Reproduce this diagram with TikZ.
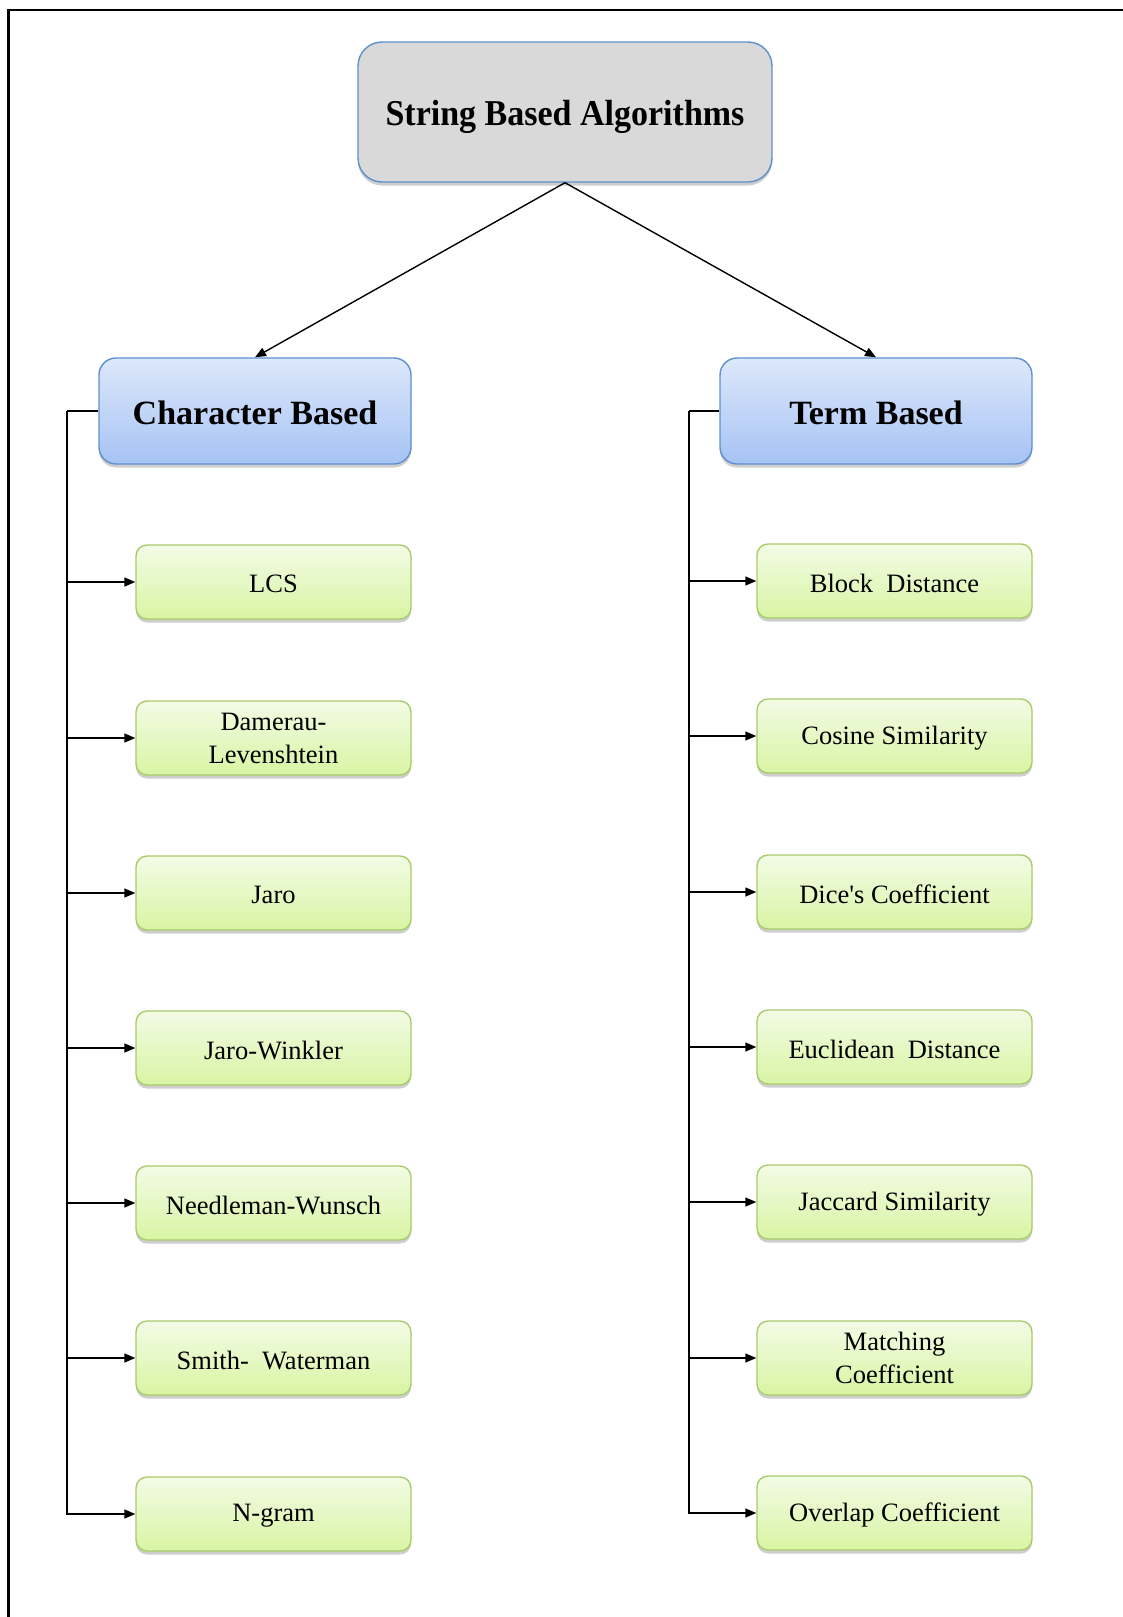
\documentclass[tikz,border=0pt]{standalone}
\usepackage{fontspec}
\setmainfont{Liberation Serif}
\usetikzlibrary{arrows.meta,shadows}
\definecolor{grayfill}{HTML}{D9D9D9}
\definecolor{blueedge}{HTML}{5F8FD0}
\definecolor{bluetop}{HTML}{DDE8FB}
\definecolor{bluebot}{HTML}{A6C3F4}
\definecolor{greenedge}{HTML}{A9CB6C}
\definecolor{greentop}{HTML}{F3FBE6}
\definecolor{greenbot}{HTML}{D8F5A3}
% lower a label inside its box without changing the box size
\newcommand{\lowered}[2]{\raisebox{-#1}[\height][\depth]{#2}}
\tikzset{
  boxshadow/.style={drop shadow={shadow xshift=0pt,shadow yshift=-3.5pt,opacity=0.32,fill=black!60}},
  rootbox/.style={draw=blueedge,line width=1.4pt,fill=grayfill,rounded corners=24pt,
    minimum width=414pt,minimum height=140pt,inner sep=0pt,boxshadow,
    font=\fontsize{34}{40}\selectfont\bfseries},
  catbox/.style={draw=blueedge,line width=1.4pt,top color=bluetop,bottom color=bluebot,
    rounded corners=17pt,minimum width=312pt,minimum height=106pt,inner sep=0pt,boxshadow,
    font=\fontsize{34}{40}\selectfont\bfseries},
  algbox/.style={draw=greenedge,line width=1.4pt,top color=greentop,bottom color=greenbot,
    rounded corners=11pt,minimum width=275pt,minimum height=74pt,inner sep=0pt,boxshadow,
    align=center,font=\fontsize{26.5}{33}\selectfont},
  link/.style={line width=1.4pt,black},
  arr/.style={link,-{Triangle[length=11pt,width=9pt]}},
  frameline/.style={line width=2.5pt,black}
}
\begin{document}
\begin{tikzpicture}[x=1pt,y=-1pt]
\useasboundingbox (0,0) rectangle (1123,1617);
% outer frame (only top and left edges fall inside the page)
\draw[frameline] (8.5,1630) -- (8.5,10) -- (1135,10);

% root and categories
\node[rootbox] (root) at (565,112) {\lowered{5pt}{\scalebox{1}[1.07]{String Based Algorithms}}};
\node[catbox] (cb) at (255,411) {\lowered{2pt}{Character Based}};
\node[catbox] (tb) at (876,411) {\lowered{2pt}{Term Based}};

\draw[arr] (root.south) -- (cb.north);
\draw[arr] (root.south) -- (tb.north);

% character based algorithms
\node[algbox] (lcs) at (273.5,582) {\lowered{2pt}{LCS}};
\node[algbox] (dl)  at (273.5,738) {Damerau-\\Levenshtein};
\node[algbox] (jaro) at (273.5,893) {\lowered{2pt}{Jaro}};
\node[algbox] (jw)  at (273.5,1048) {\lowered{2pt}{Jaro-Winkler}};
\node[algbox] (nw)  at (273.5,1203) {\lowered{2pt}{Needleman-Wunsch}};
\node[algbox] (sw)  at (273.5,1358) {\lowered{2pt}{Smith-\ \ Waterman}};
\node[algbox] (ng)  at (273.5,1514) {\lowered{2pt}{N-gram}};

% term based algorithms
\node[algbox] (bd)  at (894.5,581) {\lowered{2pt}{Block\ \ Distance}};
\node[algbox] (cs)  at (894.5,736) {\lowered{2pt}{Cosine Similarity}};
\node[algbox] (dc)  at (894.5,892) {\lowered{2pt}{Dice\textquotesingle s Coefficient}};
\node[algbox] (ed)  at (894.5,1047) {\lowered{2pt}{Euclidean\ \ Distance}};
\node[algbox] (js)  at (894.5,1202) {\lowered{2pt}{Jaccard Similarity}};
\node[algbox] (mc)  at (894.5,1358) {Matching\\Coefficient};
\node[algbox] (oc)  at (894.5,1513) {\lowered{2pt}{Overlap Coefficient}};

% left trunk
\coordinate (lt) at (67,411);
\draw[link] (cb.west) -- (lt);
\draw[arr] (lt) |- (ng.west);
\foreach \n in {lcs,dl,jaro,jw,nw,sw}
  \draw[arr] (lt |- \n.west) -- (\n.west);

% right trunk
\coordinate (rt) at (689,411);
\draw[link] (tb.west) -- (rt);
\draw[arr] (rt) |- (oc.west);
\foreach \n in {bd,cs,dc,ed,js,mc}
  \draw[arr] (rt |- \n.west) -- (\n.west);
\end{tikzpicture}
\end{document}
